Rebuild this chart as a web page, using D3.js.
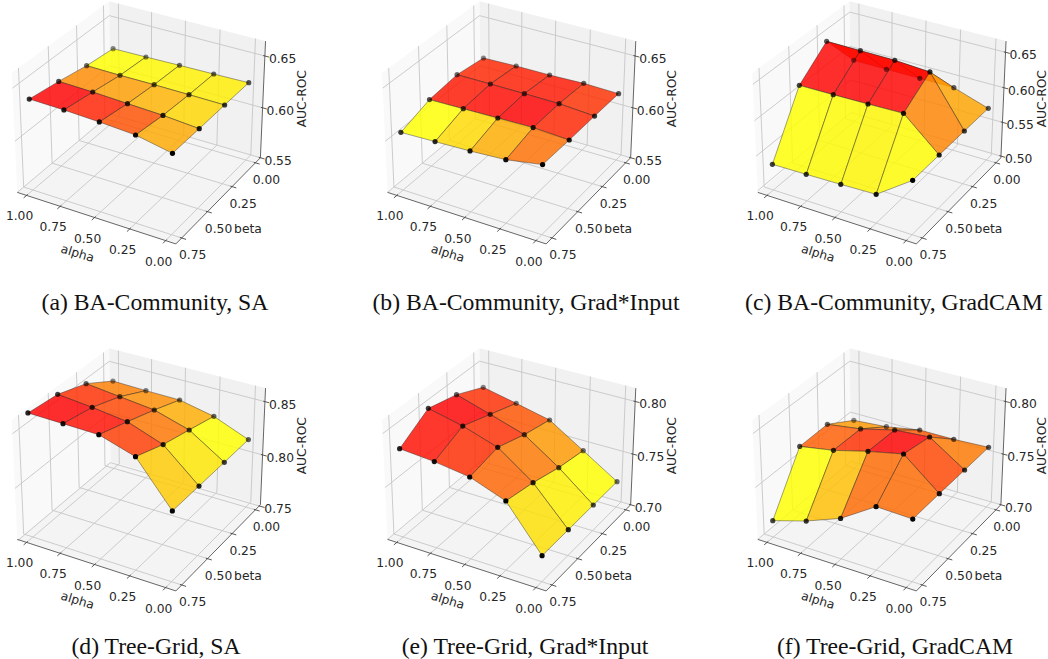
<!DOCTYPE html>
<html>
<head>
<meta charset="utf-8">
<script src="https://d3js.org/d3.v7.min.js"></script>
<style>
    html, body { margin: 0; padding: 0; background: #fff; }
    svg { display: block; }
    text { font-family: 'DejaVu Sans', sans-serif; font-size: 12.3px; fill: #262626; }
    text.caption { font-family: 'Liberation Serif', serif; font-size: 23.7px; fill: #111; text-anchor: middle; }
</style>
</head>
<body>
<svg id="viz" width="1048" height="659"></svg>
<script>
// grid of the experiment, rows of each series go by beta, columns by alpha
let alphas = [1, 0.75, 0.5, 0.25, 0];
let betas = [0.75, 0.5, 0.25, 0];

let alphaTicks = ["1.00", "0.75", "0.50", "0.25", "0.00"];
let betaTicks = ["0.75", "0.50", "0.25", "0.00"];

let titles = [
    "(a) BA-Community, SA", "(b) BA-Community, Grad*Input", "(c) BA-Community, GradCAM",
    "(d) Tree-Grid, SA", "(e) Tree-Grid, Grad*Input", "(f) Tree-Grid, GradCAM"
];

// AUC-ROC
let baSA = [
    [0.6378, 0.6371, 0.6356, 0.6334, 0.6267],
    [0.6332, 0.6323, 0.6307, 0.6292, 0.6265],
    [0.6276, 0.6272, 0.6273, 0.6270, 0.6266],
    [0.6241, 0.6246, 0.6253, 0.6258, 0.6265]
];
let baGrad = [
    [0.6063, 0.6074, 0.6086, 0.6106, 0.6163],
    [0.6157, 0.6164, 0.6171, 0.6177, 0.6159],
    [0.6188, 0.6188, 0.6187, 0.6184, 0.6161],
    [0.6148, 0.6157, 0.6158, 0.6167, 0.6159]
];
let baCam = [
    [0.5349, 0.5358, 0.5370, 0.5386, 0.5737],
    [0.6145, 0.6151, 0.6159, 0.6170, 0.5738],
    [0.6465, 0.6461, 0.6456, 0.6426, 0.5738],
    [0.5895, 0.5894, 0.5896, 0.5896, 0.5735]
];
let treeSA = [
    [0.8666, 0.8659, 0.8651, 0.8550, 0.8166],
    [0.8636, 0.8604, 0.8562, 0.8446, 0.8165],
    [0.8542, 0.8505, 0.8468, 0.8372, 0.8165],
    [0.8376, 0.8368, 0.8364, 0.8296, 0.8166]
];
let treeGrad = [
    [0.7841, 0.7816, 0.7771, 0.7650, 0.7247],
    [0.8007, 0.7932, 0.7826, 0.7592, 0.7249],
    [0.7937, 0.7837, 0.7734, 0.7513, 0.7251],
    [0.7812, 0.7742, 0.7668, 0.7461, 0.7252]
];
let treeCam = [
    [0.7160, 0.7259, 0.7387, 0.7598, 0.7586],
    [0.7650, 0.7705, 0.7789, 0.7858, 0.7588],
    [0.7653, 0.7698, 0.7778, 0.7803, 0.7586],
    [0.7487, 0.7513, 0.7571, 0.7571, 0.7586]
];
let series = [baSA, baGrad, baCam, treeSA, treeGrad, treeCam];

let zDomains = [[0.55, 0.664], [0.55, 0.664], [0.4975, 0.6655], [0.7515, 0.8624], [0.70, 0.8124], [0.70, 0.8124]];
let zTicks = [
    ["0.55", "0.60", "0.65"], ["0.55", "0.60", "0.65"], ["0.50", "0.55", "0.60", "0.65"],
    ["0.75", "0.80", "0.85"], ["0.70", "0.75", "0.80"], ["0.70", "0.75", "0.80"]
];

// axis limits of the panes
let aLo = -0.07, aHi = 1.07, bLo = -0.0547, bHi = 0.8047;

// box is 4:4:3, seen from elev 30, azim 120, eye 10 away
let boxW = 1.143, boxH = 0.857, dist = 10, scale = 1590;
let sx = d3.scaleLinear().domain([aLo, aHi]).range([-boxW / 2, boxW / 2]);
let sy = d3.scaleLinear().domain([bLo, bHi]).range([-boxW / 2, boxW / 2]);

let svg = d3.select("#viz");
let line = d3.line();

function drawPanel(idx) {
    let col = idx % 3, row = Math.floor(idx / 3);
    let values = series[idx];
    let sz = d3.scaleLinear().domain(zDomains[idx]).range([-boxH / 2, boxH / 2]);
    let [zLo, zHi] = zDomains[idx];

    let g = svg.append("g")
        .attr("transform", `translate(${141 + col * 370.25},${117 + row * 347})`);

    // perspective, gives screen x, y and the depth along the view
    let proj = (a, b, z) => {
        let dx = sx(a), dy = sy(b), dz = sz(z);
        let d = dist - (-0.433 * dx + 0.75 * dy + 0.5 * dz);
        return [
            scale * (-0.866 * dx - 0.5 * dy) / d,
            -scale * (0.25 * dx - 0.433 * dy + 0.866 * dz) / d,
            d
        ];
    };
    let xy = (a, b, z) => proj(a, b, z).slice(0, 2);
    let path = (pts) => line(pts.map(p => xy(...p)));

    // panes
    let panes = [
        { fill: "#f4f4f4", pts: [[aHi, bHi, zLo], [aLo, bHi, zLo], [aLo, bLo, zLo], [aHi, bLo, zLo]] },
        { fill: "#f9f9f9", pts: [[aHi, bHi, zLo], [aHi, bLo, zLo], [aHi, bLo, zHi], [aHi, bHi, zHi]] },
        { fill: "#f1f1f1", pts: [[aHi, bLo, zLo], [aLo, bLo, zLo], [aLo, bLo, zHi], [aHi, bLo, zHi]] }
    ];
    g.selectAll("path.pane").data(panes).enter().append("path")
        .attr("class", "pane")
        .attr("d", d => path(d.pts) + "Z")
        .attr("fill", d => d.fill);

    // grid lines
    let grid = [];
    alphas.forEach(a => grid.push([[a, bHi, zLo], [a, bLo, zLo], [a, bLo, zHi]]));
    betas.forEach(b => grid.push([[aLo, b, zLo], [aHi, b, zLo], [aHi, b, zHi]]));
    zTicks[idx].forEach(t => grid.push([[aHi, bHi, +t], [aHi, bLo, +t], [aLo, bLo, +t]]));
    g.selectAll("path.grid").data(grid).enter().append("path")
        .attr("class", "grid")
        .attr("d", path)
        .attr("fill", "none")
        .attr("stroke", "#c6c6c6")
        .attr("stroke-width", 0.9);

    // axis lines
    let axes = [
        [[aHi, bHi, zLo], [aLo, bHi, zLo]],
        [[aLo, bHi, zLo], [aLo, bLo, zLo]],
        [[aLo, bLo, zLo], [aLo, bLo, zHi]]
    ];
    g.selectAll("path.axis").data(axes).enter().append("path")
        .attr("class", "axis")
        .attr("d", path)
        .attr("fill", "none")
        .attr("stroke", "#555")
        .attr("stroke-width", 0.9);

    // ticks
    let ticks = [];
    alphas.forEach(a => ticks.push([[a, bHi + 0.025, zLo], [a, bHi - 0.01, zLo]]));
    betas.forEach(b => ticks.push([[aLo - 0.03, b, zLo], [aLo + 0.012, b, zLo]]));
    zTicks[idx].forEach(t => ticks.push([[aLo - 0.03, bLo, +t], [aLo + 0.012, bLo, +t]]));
    g.selectAll("path.tick").data(ticks).enter().append("path")
        .attr("class", "tick")
        .attr("d", path)
        .attr("stroke", "#444")
        .attr("stroke-width", 0.9);

    // surface faces, far ones first
    let faces = [];
    for (let i = 0; i < betas.length - 1; i++) {
        for (let j = 0; j < alphas.length - 1; j++) {
            let corners = [[i, j], [i, j + 1], [i + 1, j + 1], [i + 1, j]]
                .map(([r, c]) => [alphas[c], betas[r], values[r][c]]);
            faces.push({
                corners: corners,
                avg: d3.mean(corners, c => c[2]),
                depth: d3.mean(corners, c => proj(...c)[2])
            });
        }
    }
    faces.sort((p, q) => q.depth - p.depth);

    // autumn_r over the face averages
    let color = d3.scaleLinear()
        .domain(d3.extent(faces, f => f.avg))
        .range(["#ffff00", "#ff0000"]);

    g.selectAll("path.face").data(faces).enter().append("path")
        .attr("class", "face")
        .attr("d", d => path(d.corners) + "Z")
        .attr("fill", d => color(d.avg))
        .attr("fill-opacity", 0.82)
        .attr("stroke", "#222")
        .attr("stroke-opacity", 0.6)
        .attr("stroke-width", 0.7);

    // points, faded with depth
    let points = [];
    betas.forEach((b, r) => alphas.forEach((a, c) => {
        let p = proj(a, b, values[r][c]);
        points.push({ x: p[0], y: p[1], depth: p[2] });
    }));
    points.sort((p, q) => q.depth - p.depth);
    let fade = d3.scaleLinear().domain(d3.extent(points, p => p.depth)).range([1, 0.45]);
    g.selectAll("circle").data(points).enter().append("circle")
        .attr("cx", d => d.x)
        .attr("cy", d => d.y)
        .attr("r", 2.6)
        .attr("fill", "#000")
        .attr("fill-opacity", d => fade(d.depth));

    // tick labels
    alphas.forEach((a, i) => {
        let p = xy(a, bHi, zLo);
        g.append("text").attr("x", p[0] - 7).attr("y", p[1] + 21)
            .attr("text-anchor", "middle").attr("dominant-baseline", "central")
            .text(alphaTicks[i]);
    });
    betas.forEach((b, i) => {
        let p = xy(aLo, b, zLo);
        g.append("text").attr("x", p[0] + 11).attr("y", p[1] + 17)
            .attr("text-anchor", "middle").attr("dominant-baseline", "central")
            .text(betaTicks[i]);
    });
    zTicks[idx].forEach(t => {
        let p = xy(aLo, bLo, +t);
        g.append("text").attr("x", p[0] + 4).attr("y", p[1] + 3)
            .attr("text-anchor", "start").attr("dominant-baseline", "central")
            .text(t);
    });

    // axis labels
    let pa = xy(0.5, bHi, zLo);
    g.append("text")
        .attr("transform", `translate(${pa[0] - 17},${pa[1] + 36}) rotate(17)`)
        .attr("text-anchor", "middle").attr("dominant-baseline", "central")
        .text("alpha");
    let pb = xy(aLo, 0.375, zLo);
    g.append("text")
        .attr("x", pb[0] + 28).attr("y", pb[1] + 30)
        .attr("text-anchor", "middle").attr("dominant-baseline", "central")
        .text("beta");
    let pz = xy(aLo, bLo, (zLo + zHi) / 2);
    g.append("text")
        .attr("transform", `translate(${pz[0] + 39},${pz[1] - 2}) rotate(-90)`)
        .attr("text-anchor", "middle").attr("dominant-baseline", "central")
        .text("AUC-ROC");
}

titles.forEach((t, i) => drawPanel(i));

// captions under each panel
let captionX = [155, 526, 894, 156, 525, 895];
svg.selectAll("text.caption").data(titles).enter().append("text")
    .attr("class", "caption")
    .attr("x", (d, i) => captionX[i])
    .attr("y", (d, i) => i < 3 ? 310 : 653.5)
    .text(d => d);
</script>
</body>
</html>
